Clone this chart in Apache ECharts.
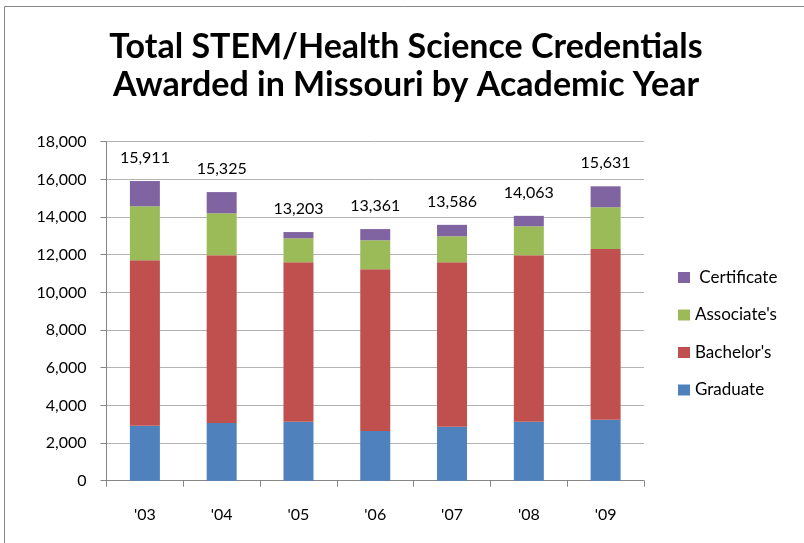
<!DOCTYPE html>
<html>
<head>
<meta charset="utf-8">
<script src="https://cdn.jsdelivr.net/npm/echarts@6/dist/echarts.min.js"></script>
<style>
  html, body { margin: 0; padding: 0; background: #fff; }
  #chart { width: 804px; height: 543px; }
</style>
</head>
<body>
<div id="chart"></div>
<script>
// data
var years = ["'03", "'04", "'05", "'06", "'07", "'08", "'09"];
var graduate = [2920, 3064, 3133, 2640, 2868, 3133, 3240];
var bachelors = [8784, 8906, 8465, 8586, 8730, 8837, 9065];
var associates = [2868, 2230, 1275, 1541, 1381, 1540, 2214];
var certificate = [1339, 1125, 330, 594, 607, 553, 1112];
var totals = [15911, 15325, 13203, 13361, 13586, 14063, 15631];

var fontName = 'Lato';

var myChart = echarts.init(document.getElementById('chart'));

function fmt(n) {
    return n.toLocaleString('en-US');
}

var option = {
    animation: false,
    backgroundColor: '#fff',
    textStyle: { fontFamily: fontName },
    title: {
        text: 'Total STEM/Health Science Credentials\nAwarded in Missouri by Academic Year',
        left: 401,
        top: 23,
        textAlign: 'center',
        textStyle: {
            fontFamily: fontName,
            fontWeight: 'bold',
            fontSize: 34,
            lineHeight: 38,
            color: '#000'
        }
    },
    graphic: [{
        type: 'rect',
        shape: { x: 4.5, y: 6.5, width: 900, height: 700 },
        style: { fill: 'none', stroke: '#888', lineWidth: 1 },
        silent: true
    }],
    legend: {
        orient: 'vertical',
        left: 673,
        top: 264,
        itemWidth: 12,
        itemHeight: 11,
        itemGap: 20.5,
        icon: 'rect',
        data: ['Certificate', "Associate's", "Bachelor's", 'Graduate'],
        // the original has a leading space before Certificate
        formatter: function(name) { return name === 'Certificate' ? ' ' + name : name; },
        textStyle: { fontFamily: fontName, fontSize: 17, lineHeight: 17, color: '#000' }
    },
    grid: {
        left: 106.5,
        right: 160,
        top: 141.7,
        bottom: 62.3
    },
    xAxis: {
        type: 'category',
        data: years,
        axisLine: { lineStyle: { color: '#868686' } },
        axisTick: { show: true, length: 6, lineStyle: { color: '#868686' } },
        axisLabel: { color: '#000', fontSize: 16, margin: 26, fontFamily: fontName }
    },
    yAxis: {
        type: 'value',
        min: 0,
        max: 18000,
        interval: 2000,
        axisLine: { show: true, lineStyle: { color: '#868686' } },
        axisTick: { show: true, length: 6, lineStyle: { color: '#868686' } },
        axisLabel: {
            color: '#000',
            fontSize: 16,
            margin: 20,
            fontFamily: fontName,
            formatter: function(v) { return fmt(v); }
        },
        splitLine: { lineStyle: { color: '#b3b3b3', width: 1 } }
    },
    series: [
        {
            name: 'Graduate', type: 'bar', stack: 'total', barWidth: 30,
            itemStyle: { color: '#4F81BD' }, data: graduate
        },
        {
            name: "Bachelor's", type: 'bar', stack: 'total',
            itemStyle: { color: '#C0504D' }, data: bachelors
        },
        {
            name: "Associate's", type: 'bar', stack: 'total',
            itemStyle: { color: '#9BBB59' }, data: associates
        },
        {
            name: 'Certificate', type: 'bar', stack: 'total',
            itemStyle: { color: '#8064A2' }, data: certificate,
            label: {
                show: true,
                position: 'top',
                distance: 15,
                color: '#000',
                fontSize: 16,
                fontFamily: fontName,
                formatter: function(p) { return fmt(totals[p.dataIndex]); }
            }
        }
    ]
};

myChart.setOption(option);
</script>
</body>
</html>
